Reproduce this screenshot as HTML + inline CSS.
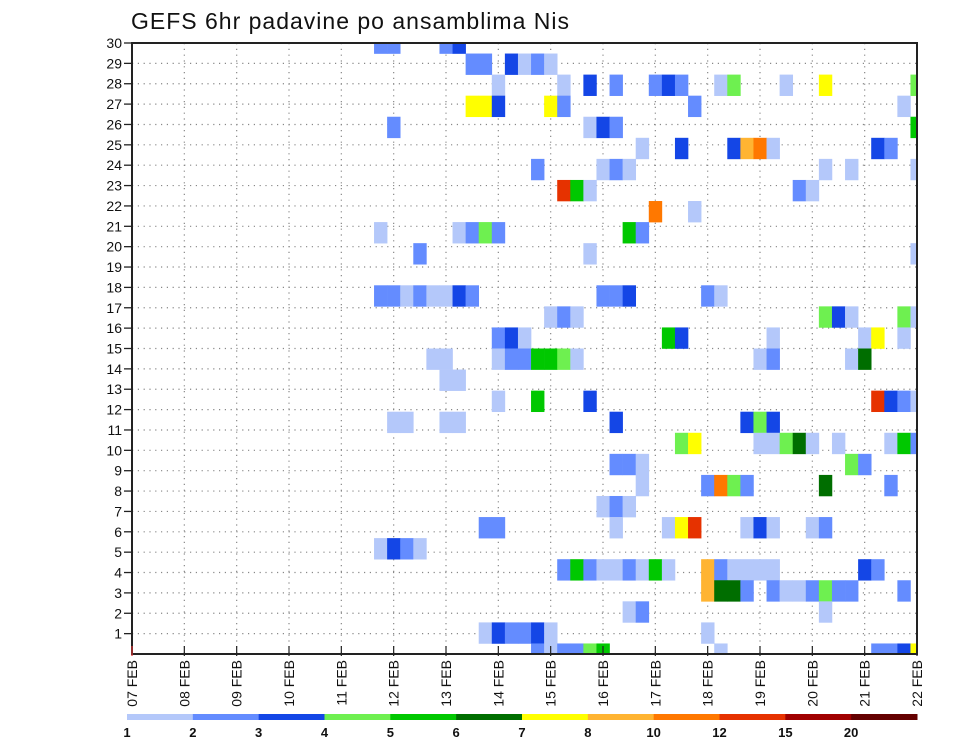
<!DOCTYPE html>
<html><head><meta charset="utf-8"><style>
html,body{margin:0;padding:0;background:#fff;}
svg{display:block;font-family:"Liberation Sans",sans-serif;}
</style></head><body>
<svg id="chart" width="960" height="742" viewBox="0 0 960 742" xmlns="http://www.w3.org/2000/svg">
<text x="131" y="29" font-size="23" letter-spacing="1" fill="#111">GEFS 6hr padavine po ansamblima Nis</text>
<g id="grid"></g>
<g id="cells"></g>
<g id="axes"></g>
<g id="legend"></g>
</svg>
<script>
const dayLabels = ["07 FEB","08 FEB","09 FEB","10 FEB","11 FEB","12 FEB","13 FEB","14 FEB","15 FEB","16 FEB","17 FEB","18 FEB","19 FEB","20 FEB","21 FEB","22 FEB"];
const memberTicks = [1,2,3,4,5,6,7,8,9,10,11,12,13,14,15,16,17,18,19,20,21,22,23,24,25,26,27,28,29,30];
const levelLabels = ["1","2","3","4","5","6","7","8","10","12","15","20"];
const levels = [1,2,3,4,5,6,7,8,10,12,15,20];
const levelColors = ["#b4c8fa","#648cff","#1446e6","#6ef050","#00c800","#006e00","#ffff00","#ffb432","#ff7800","#e63200","#a00000","#640000"];
// cells: member row index, 6-hour step index, precip value (mm)
const rowsSpec = [
"29:19b,20b,24b,25c",
"28:26b,27b,29c,30a,31b,32a",
"27:28a,33a,35c,37b,40b,41c,42b,45a,46d,50a,53g,60d",
"26:26g,27g,28c,32g,33b,43b,59a",
"25:20b,35a,36c,37b,60e",
"24:39a,42c,46c,47h,48i,49a,57c,58b",
"23:31b,36a,37b,38a,53a,55a,60a",
"22:33j,34e,35a,51b,52a",
"21:40i,43a",
"20:19a,25a,26b,27d,28b,38e,39b",
"19:22b,35a,60a",
"17:19b,20b,21a,22b,23a,24a,25c,26b,36b,37b,38c,44b,45a",
"16:32a,33b,34a,53d,54c,55a,59d,60a",
"15:28b,29c,30a,41e,42c,49a,56a,57g,59a",
"14:23a,24a,28a,29b,30b,31e,32e,33d,34a,48a,49b,55a,56f",
"13:24a,25a",
"12:28a,31e,35c,57j,58c,59b,60a",
"11:20a,21a,24a,25a,37c,47c,48d,49c",
"10:42d,43g,48a,49a,50d,51f,52a,54a,58a,59e,60b",
"9:37b,38b,39a,55d,56b",
"8:39a,44b,45i,46d,47b,53f,58b",
"7:36a,37b,38a",
"6:27b,28b,37a,41a,42g,43j,47a,48c,49a,52a,53b",
"5:19a,20c,21b,22a",
"4:33b,34e,35b,36a,37a,38b,39a,40e,41a,44h,45b,46a,47a,48a,49a,56c,57b",
"3:44h,45f,46f,47b,49b,50a,51a,52b,53d,54b,55b,59b",
"2:38a,39b,53a",
"1:27a,28c,29b,30b,31c,32a,44a",
"0:31b,32a,33b,34b,35d,36e,45a,57b,58b,59c,60g"
];
const catValue = {a:1.5,b:2.5,c:3.5,d:4.5,e:5.5,f:6.5,g:7.5,h:9,i:11,j:13.5};
const cellMember = [], cellStep = [], cellValue = [];
rowsSpec.forEach(r=>{const [m,list]=r.split(":");list.split(",").forEach(t=>{
  cellMember.push(+m);cellStep.push(parseInt(t));cellValue.push(catValue[t.slice(-1)]);});});

const NS="http://www.w3.org/2000/svg";
const X0=132,X1=917,Y0=654,Y1=43,NSTEP=60,NROW=29;
const xStep=s=>X0+(X1-X0)*s/NSTEP;
const yTick=k=>Y0-(Y0-Y1)*k/30;
const yRow=j=>Y0-(Y0-Y1)*j/NROW;
const cw=(X1-X0)/NSTEP, ch=(Y0-Y1)/NROW;
function mk(tag,attrs,parent){const e=document.createElementNS(NS,tag);for(const k in attrs)e.setAttribute(k,attrs[k]);parent.appendChild(e);return e;}
function colorFor(v){let i=0;for(let k=0;k<levels.length;k++){if(v>=levels[k])i=k;}return levelColors[i];}

const grid=document.getElementById('grid');
memberTicks.forEach(k=>{const l=mk('line',{x1:X0,x2:X1,y1:yTick(k),y2:yTick(k),stroke:'#888','stroke-width':1.2,'stroke-dasharray':'1.2 4.6'},grid);

});
dayLabels.forEach((d,i)=>{if(i===0||i===15)return;const x=xStep(i*4);const l=mk('line',{x1:x,x2:x,y1:Y1,y2:Y0,stroke:'#888','stroke-width':1.2,'stroke-dasharray':'1.2 4.6'},grid);

});

const cg=document.getElementById('cells');
const clip=mk('clipPath',{id:'pc'},document.getElementById('chart'));
mk('rect',{x:X0,y:Y1,width:X1-X0,height:Y0-Y1},clip);
cg.setAttribute('clip-path','url(#pc)');
for(let n=0;n<cellValue.length;n++){
  const r=mk('rect',{x:xStep(cellStep[n])-cw/2,y:yRow(cellMember[n])-ch/2,width:cw+0.3,height:ch+0.3,fill:colorFor(cellValue[n])},cg);
  
  
}

const ax=document.getElementById('axes');
const fr=mk('rect',{x:X0,y:Y1,width:X1-X0,height:Y0-Y1,fill:'none',stroke:'#222','stroke-width':2},ax);


memberTicks.forEach(k=>{const y=yTick(k);
  mk('line',{x1:X0-8,x2:X0,y1:y,y2:y,stroke:'#222','stroke-width':1.3},ax);
  const t=mk('text',{x:X0-10,y:y+5,'font-size':14,'text-anchor':'end',fill:'#111'},ax);t.textContent=k;
  
  });
dayLabels.forEach((d,i)=>{const x=xStep(i*4);
  mk('line',{x1:x,x2:x,y1:Y0-8,y2:Y0+2,stroke:i===0?'#d33':'#222','stroke-width':1.2},ax);
  const t=mk('text',{x:0,y:0,'font-size':14,'text-anchor':'end',fill:'#111',transform:`translate(${x+5},660) rotate(-90)`},ax);t.textContent=d;
  
  });

const lg=document.getElementById('legend');
const LX0=127,LX1=917,segW=(LX1-LX0)/levelColors.length;
levelColors.forEach((c,i)=>{const r=mk('rect',{x:LX0+i*segW,y:714,width:segW+0.5,height:6,fill:c},lg);
  
  });
levelLabels.forEach((s,i)=>{const t=mk('text',{x:LX0+i*segW,y:737,'font-size':13,'font-weight':'bold','text-anchor':'middle',fill:'#111'},lg);t.textContent=s;
  
  });
</script>
</body></html>
